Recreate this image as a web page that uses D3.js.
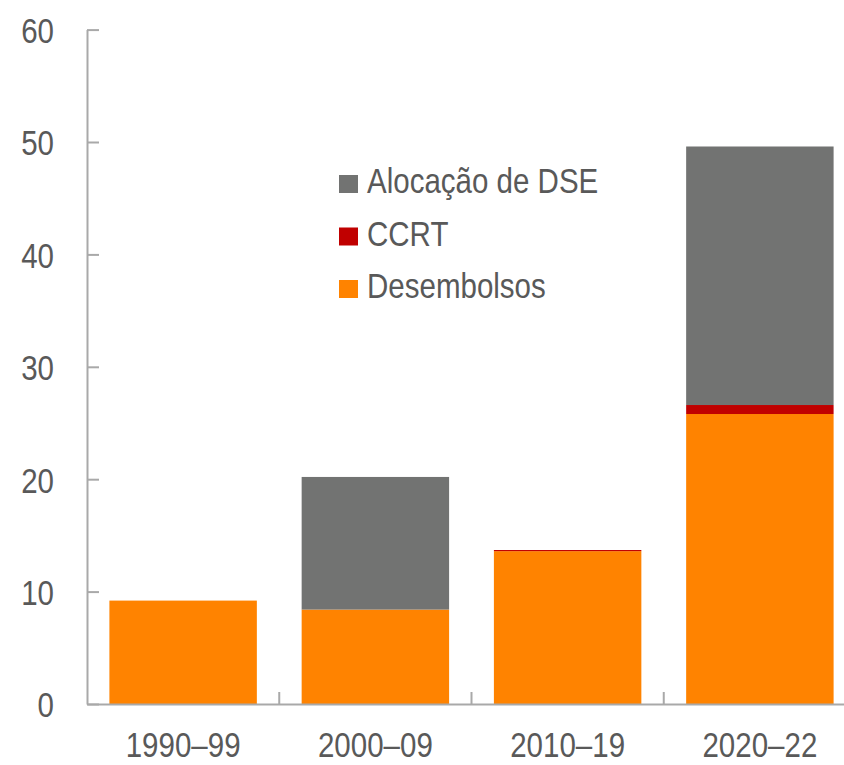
<!DOCTYPE html>
<html>
<head>
<meta charset="utf-8">
<script src="https://cdn.jsdelivr.net/npm/d3@7"></script>
<style>
  body { margin: 0; background: #fff; }
  svg { display: block; font-family: "Liberation Sans", Arial, sans-serif; }
</style>
</head>
<body>
<div id="chart"></div>
<script>
// values (billions, stacked)
const periods = ["1990–99", "2000–09", "2010–19", "2020–22"];
const desembolsos = [9.2, 8.4, 13.6, 25.8];
const ccrt = [0, 0, 0.1, 0.8];
const alocacaoDSE = [0, 11.8, 0, 23.0];
const yTicks = [0, 10, 20, 30, 40, 50, 60];

const seriesNames = ["Desembolsos", "CCRT", "Alocação de DSE"];
const seriesColors = ["#ff8300", "#c00000", "#727372"];

const width = 844, height = 765;
const plotLeft = 87, plotBottom = 704, plotTop = 29.6;
const narrow = 0.82; // the original uses a narrow face, squeeze Liberation Sans

const rows = periods.map((p, i) => ({
  period: p,
  "Desembolsos": desembolsos[i],
  "CCRT": ccrt[i],
  "Alocação de DSE": alocacaoDSE[i]
}));

const svg = d3.select("#chart").append("svg")
  .attr("width", width)
  .attr("height", height);

const x = d3.scaleBand()
  .domain(periods)
  .range([plotLeft, 856])
  .paddingInner(0.233)
  .paddingOuter(0.1165);

const y = d3.scaleLinear()
  .domain([0, 60])
  .range([plotBottom, plotTop]);

const color = d3.scaleOrdinal().domain(seriesNames).range(seriesColors);

const stacked = d3.stack().keys(seriesNames)(rows);

// bars
svg.append("g")
  .selectAll("g")
  .data(stacked)
  .enter()
  .append("g")
  .attr("fill", d => color(d.key))
  .selectAll("rect")
  .data(d => d)
  .enter()
  .append("rect")
  .attr("x", d => x(d.data.period))
  .attr("width", x.bandwidth())
  .attr("y", d => y(d[1]))
  .attr("height", d => y(d[0]) - y(d[1]));

const axisColor = "#a9a9a9";
const textColor = "#595959";

// y axis, ticks pointing inward
const yAxis = svg.append("g")
  .attr("transform", "translate(" + plotLeft + ",0)")
  .call(d3.axisLeft(y).tickValues(yTicks).tickSizeInner(-12).tickSizeOuter(0).tickPadding(33));
yAxis.select(".domain").attr("stroke", axisColor).attr("stroke-width", 2);
yAxis.selectAll(".tick line").attr("stroke", axisColor).attr("stroke-width", 2);
yAxis.selectAll(".tick text")
  .attr("fill", textColor)
  .attr("font-size", 36)
  .attr("x", -33 / narrow)
  .attr("dy", "0.36em")
  .attr("transform", "scale(" + narrow + ",1)");

// x axis
const xAxis = svg.append("g")
  .attr("transform", "translate(0," + plotBottom + ")")
  .call(d3.axisBottom(x).tickSize(0).tickSizeOuter(0).tickPadding(27));
xAxis.select(".domain").attr("stroke", axisColor).attr("stroke-width", 2);
xAxis.selectAll(".tick text")
  .attr("fill", textColor)
  .attr("font-size", 36)
  .attr("transform", "scale(" + narrow + ",1)");

// boundary ticks between categories
const gap = x.step() * x.paddingInner() / 2;
svg.append("g")
  .selectAll("line")
  .data(periods.slice(1))
  .enter()
  .append("line")
  .attr("x1", d => x(d) - gap)
  .attr("x2", d => x(d) - gap)
  .attr("y1", plotBottom)
  .attr("y2", plotBottom - 12)
  .attr("stroke", axisColor)
  .attr("stroke-width", 2);

// legend
const legendOrder = ["Alocação de DSE", "CCRT", "Desembolsos"];
const legend = svg.append("g")
  .attr("transform", "translate(339,193)")
  .selectAll("g")
  .data(legendOrder)
  .enter()
  .append("g")
  .attr("transform", (d, i) => "translate(0," + i * 52.5 + ")");

legend.append("rect")
  .attr("x", 0)
  .attr("y", -18)
  .attr("width", 19)
  .attr("height", 18)
  .attr("fill", d => color(d));

legend.append("text")
  .attr("transform", "translate(28,0) scale(" + narrow + ",1)")
  .attr("fill", textColor)
  .attr("font-size", 36)
  .text(d => d);
</script>
</body>
</html>
